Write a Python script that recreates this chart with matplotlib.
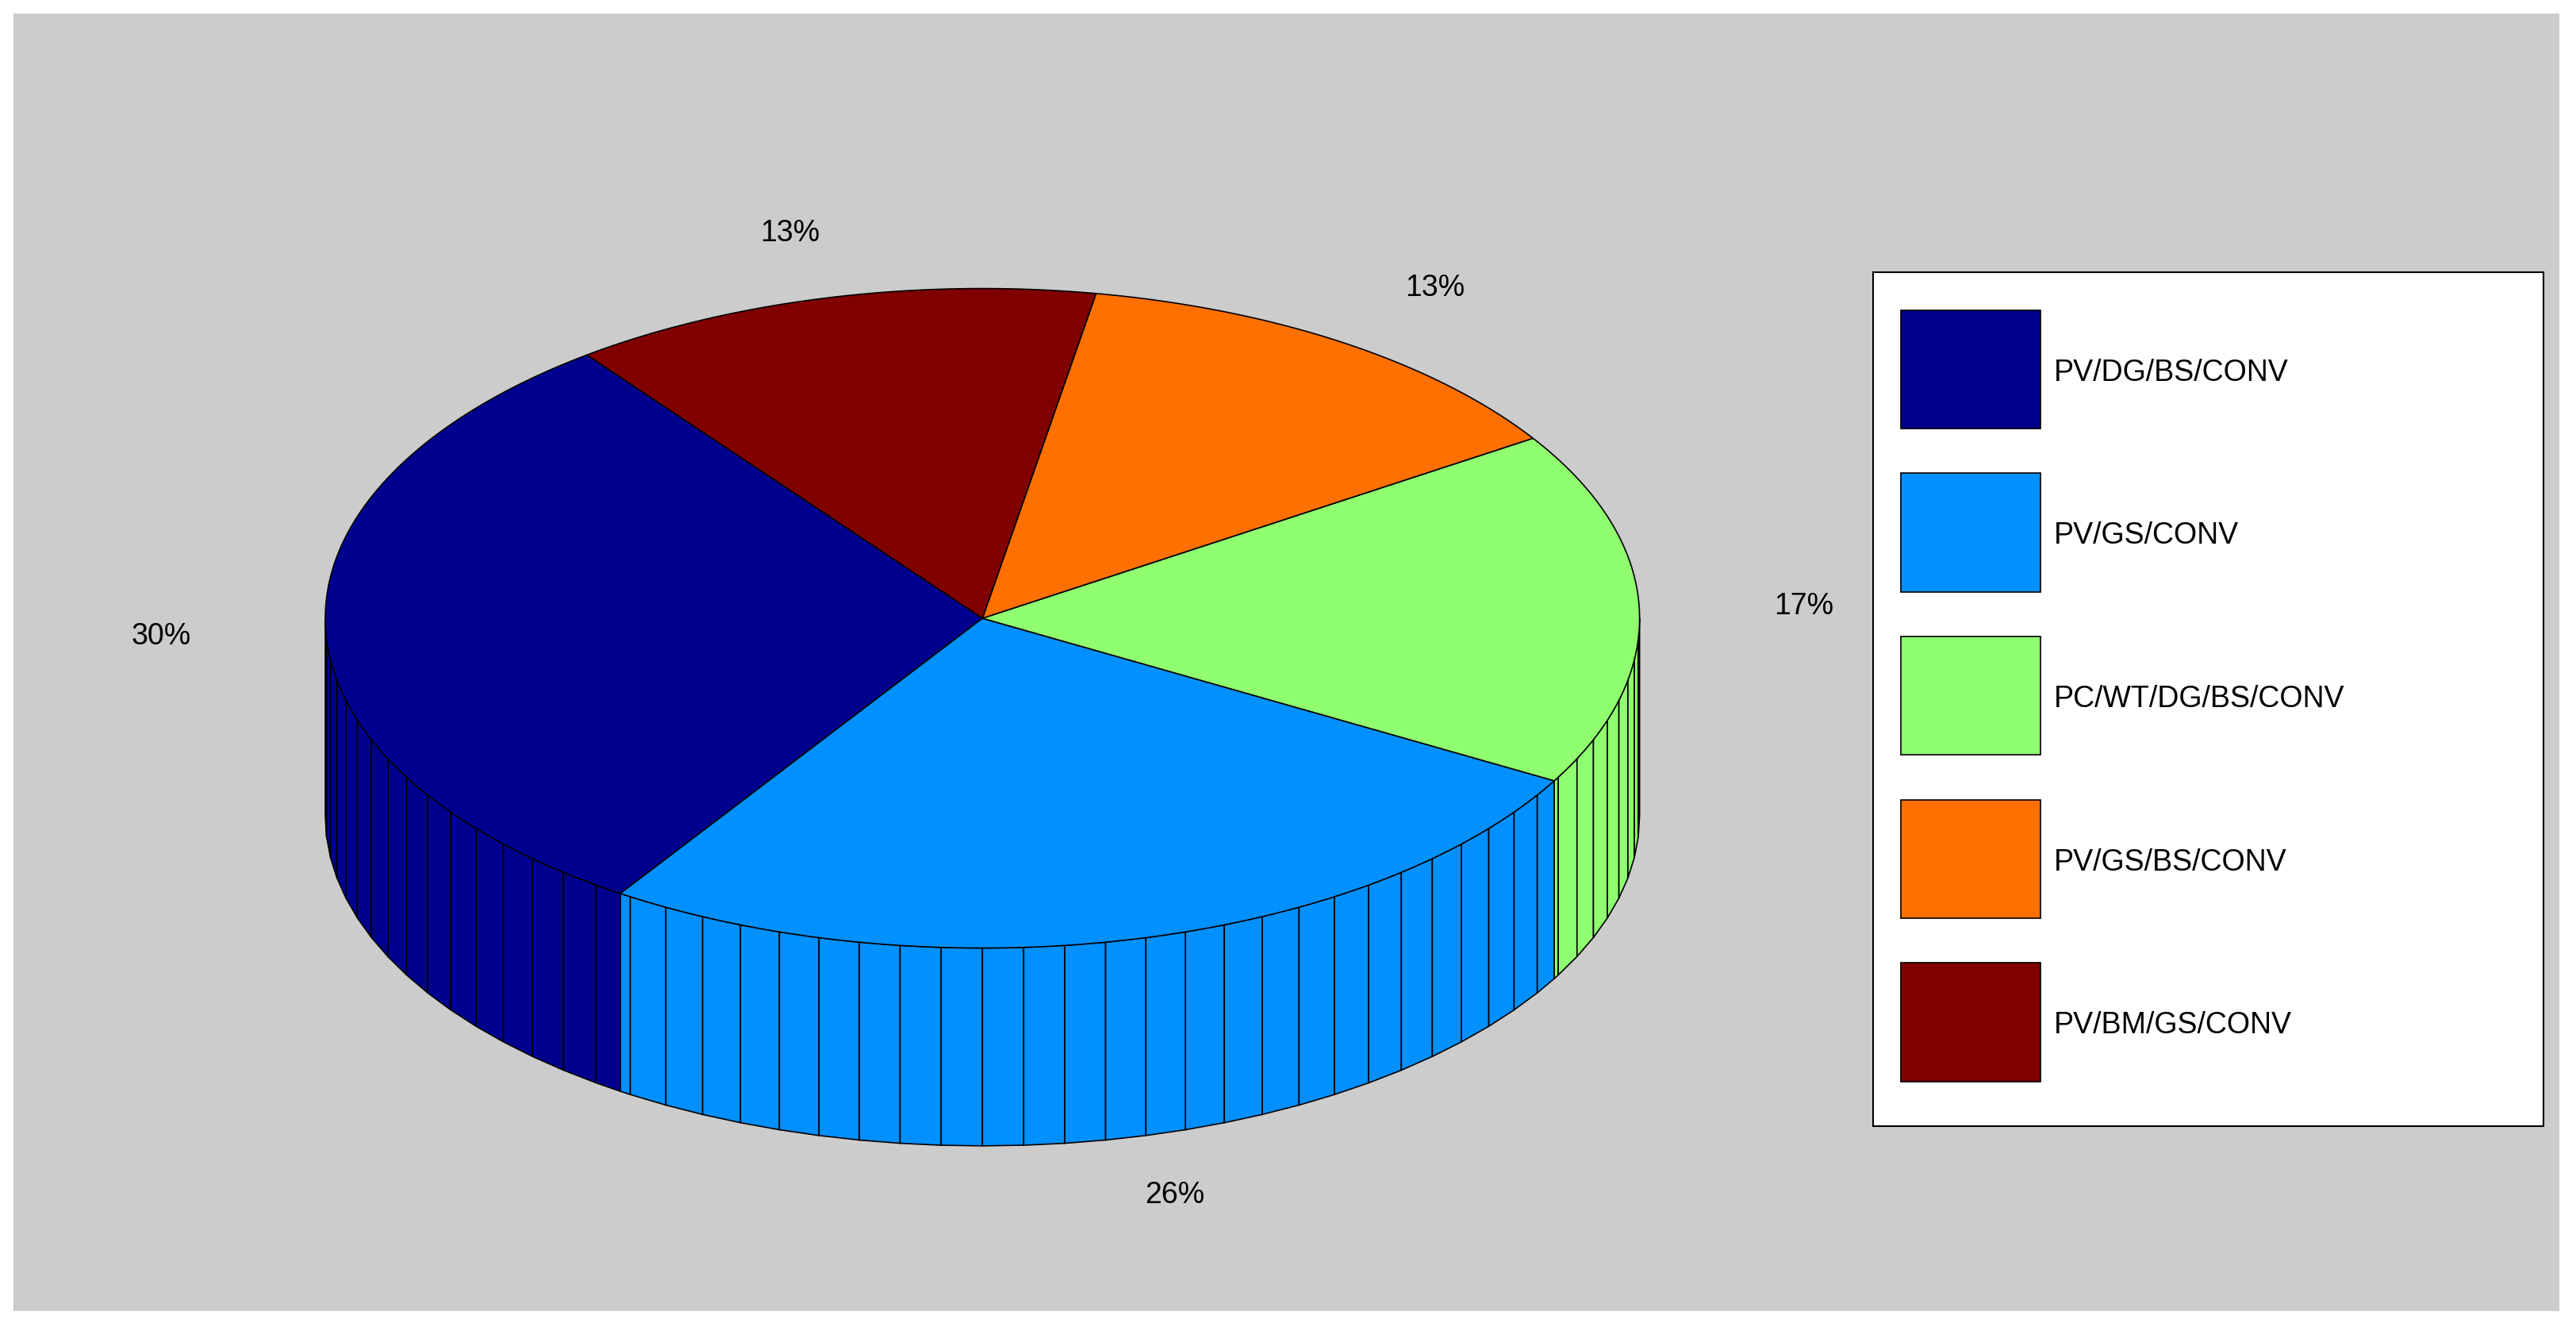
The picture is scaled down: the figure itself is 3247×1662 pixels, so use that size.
import numpy as np
import matplotlib
matplotlib.use("Agg")
import matplotlib.pyplot as plt
from matplotlib.patches import Polygon, Rectangle

categories = ["PV/DG/BS/CONV", "PV/GS/CONV", "PC/WT/DG/BS/CONV", "PV/GS/BS/CONV", "PV/BM/GS/CONV"]
counts = [7, 6, 4, 3, 3]
pct_labels = ["30%", "26%", "17%", "13%", "13%"]
colors = ["#00008F", "#0090FF", "#8FFF70", "#FF7000", "#800000"]

W, H = 1568, 800
fig = plt.figure(figsize=(32.47, 16.62), dpi=100)
ax = fig.add_axes([0, 0, 1, 1])
ax.set_xlim(0, W); ax.set_ylim(H, 0); ax.axis("off")
ax.add_patch(Rectangle((8, 8), 1550, 787, facecolor="#cccccc", edgecolor="none"))

cx, cy, rx, ry, depth = 598, 375, 400, 200, 120
start = 127.0
vals = np.array(counts, float)
spans = vals / vals.sum() * 360
bounds = start + np.concatenate([[0], np.cumsum(spans)])

def pt(a, dz=0):
    r = np.radians(a)
    return (cx + rx * np.cos(r), cy - ry * np.sin(r) + dz)

fp = dict(fontsize=27, family=["Liberation Sans", "DejaVu Sans"])
# sides
step = 3.6
for i in range(len(vals)):
    a0, a1 = bounds[i], bounds[i + 1]
    grid = np.arange(np.ceil(a0 / step) * step, a1, step)
    angs = np.unique(np.concatenate([[a0], grid, [a1]]))
    for b0, b1 in zip(angs[:-1], angs[1:]):
        m = ((b0 + b1) / 2) % 360
        if m < 180:
            continue
        poly = [pt(b0), pt(b1), pt(b1, depth), pt(b0, depth)]
        ax.add_patch(Polygon(poly, closed=True, facecolor=colors[i], edgecolor="black", lw=1.2))
# tops
for i in range(len(vals)):
    a = np.linspace(bounds[i], bounds[i + 1], 200)
    poly = [(cx, cy)] + [pt(x) for x in a]
    ax.add_patch(Polygon(poly, closed=True, facecolor=colors[i], edgecolor="black", lw=1.2))
    mid = np.radians((bounds[i] + bounds[i + 1]) / 2)
    s = np.sin(mid)
    lx = cx + 1.25 * rx * np.cos(mid)
    ly = cy - 1.2 * ry * s + depth * max(0, -s)
    ax.text(lx, ly, pct_labels[i], ha="center", va="center", **fp)

# legend
ax.add_patch(Rectangle((1140, 165), 408, 518, facecolor="white", edgecolor="black", lw=1.5))
for i, c in enumerate(categories):
    y0 = 188 + i * 99
    ax.add_patch(Rectangle((1157, y0), 85, 72, facecolor=colors[i], edgecolor="black", lw=1.2))
    ax.text(1250, y0 + 38, c, ha="left", va="center", **fp)

fig.savefig("out.png", dpi=100)
